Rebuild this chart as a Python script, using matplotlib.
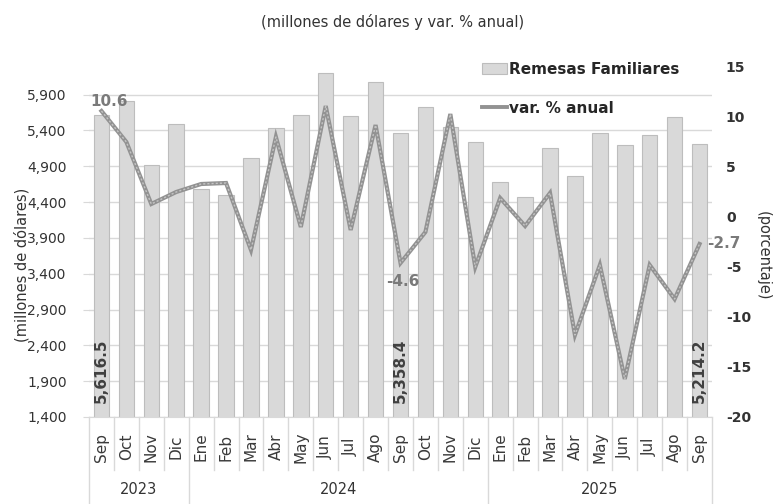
import matplotlib
matplotlib.use("Agg")
import matplotlib.pyplot as plt
import matplotlib.transforms as mtransforms
from matplotlib.patches import Patch
from matplotlib.lines import Line2D

# ---------------- data ----------------
months = ["Sep", "Oct", "Nov", "Dic",
          "Ene", "Feb", "Mar", "Abr", "May", "Jun", "Jul", "Ago", "Sep", "Oct", "Nov", "Dic",
          "Ene", "Feb", "Mar", "Abr", "May", "Jun", "Jul", "Ago", "Sep"]
year_labels = ["2023", "2024", "2025"]
months_per_year = [4, 12, 9]

remesas = [5616.5, 5805, 4916, 5490,
           4581, 4502, 5014, 5428, 5618, 6200, 5596, 6078, 5358.4, 5730, 5440, 5233,
           4675, 4465, 5149, 4758, 5358, 5199, 5335, 5582, 5214.2]
var_anual = [10.6, 7.5, 1.3, 2.5,
             3.3, 3.4, -3.3, 8.0, -1.0, 11.1, -1.3, 9.2, -4.6, -1.5, 10.3, -5.0,
             1.9, -0.9, 2.4, -11.8, -4.8, -16.2, -4.8, -8.2, -2.7]

left_ticks = [1400, 1900, 2400, 2900, 3400, 3900, 4400, 4900, 5400, 5900]
right_ticks = [-20, -15, -10, -5, 0, 5, 10, 15]

bar_label_idx = [0, 12, 24]
line_label_idx = [0, 12, 24]

# ---------------- style ----------------
FONT = "DejaVu Sans"
plt.rcParams["font.family"] = [FONT]
txt_col = "#333333"
bar_col = "#d9d9d9"
bar_edge = "#bdbdbd"
line_col = "#929292"
line_inner = "#c4c4c4"
grid_col = "#d9d9d9"

fig = plt.figure(figsize=(7.78, 5.04), dpi=100)
L, R, B, T = 89 / 778, 712 / 778, 1 - 417 / 504, 1 - 67 / 504
ax = fig.add_axes([L, B, R - L, T - B])
ax2 = ax.twinx()

x = list(range(len(months)))

# bars
ax.bar(x, remesas, width=0.62, color=bar_col, edgecolor=bar_edge, linewidth=0.8, zorder=2)
ax.set_ylim(1400, 6284)
ax.set_xlim(-0.5, len(months) - 0.5)
ax.set_yticks(left_ticks)
ax.set_yticklabels([f"{v:,}" for v in left_ticks], fontsize=10, color=txt_col)
ax.yaxis.grid(True, color=grid_col, linewidth=1)
ax.set_axisbelow(True)
ax.tick_params(axis="y", length=4, direction="out", color=grid_col, pad=12)

for s in ["top", "right", "left"]:
    ax.spines[s].set_visible(False)
ax.spines["bottom"].set_color(grid_col)

# month tick labels
ax.set_xticks(x)
ax.set_xticklabels(months, rotation=90, fontsize=11, color="#3a3a3a", va="center")
ax.tick_params(axis="x", length=0, pad=21.6)

# category separators
trans = mtransforms.blended_transform_factory(ax.transData, ax.transAxes)
ax_h_px = 350.0
month_depth = -53 / ax_h_px
year_depth = -87 / ax_h_px
year_bounds = [0]
for n in months_per_year:
    year_bounds.append(year_bounds[-1] + n)
for i in range(len(months) + 1):
    depth = year_depth if i in year_bounds else month_depth
    ax.plot([i - 0.5, i - 0.5], [0, depth], color=grid_col, lw=1,
            transform=trans, clip_on=False, zorder=1)
for k, lab in enumerate(year_labels):
    cx = (year_bounds[k] + year_bounds[k + 1] - 1) / 2
    ax.text(cx, -73 / ax_h_px, lab, transform=trans, ha="center", va="center",
            fontsize=10.5, color=txt_col)

# bar value labels
for i in bar_label_idx:
    ax.annotate(f"{remesas[i]:,.1f}", (x[i], 1400), xytext=(0, 10), textcoords="offset points",
                rotation=90, ha="center", va="bottom", fontsize=11, fontweight="bold",
                color="#404040", zorder=5)

# line (textured grey look)
ax2.plot(x, var_anual, color=line_col, linewidth=3.0, zorder=4, solid_joinstyle="miter")
ax2.plot(x, var_anual, color=line_inner, linewidth=1.0, zorder=4.5,
         linestyle=(0, (1.5, 1.5)))
ax2.set_ylim(-20, 15)
ax2.set_yticks(right_ticks)
ax2.set_yticklabels([str(v) for v in right_ticks], fontsize=10, color=txt_col, fontweight="bold")
ax2.tick_params(axis="y", length=0, pad=10)
for s in ["top", "right", "left", "bottom"]:
    ax2.spines[s].set_visible(False)

offsets = {0: (8, 10, "center", "center"), 12: (2, -19, "center", "center"), 24: (8, 0, "left", "center")}
for i in line_label_idx:
    dx, dy, ha, va = offsets[i]
    ax2.annotate(f"{var_anual[i]:.1f}", (x[i], var_anual[i]), xytext=(dx, dy),
                 textcoords="offset pixels", ha=ha, va=va, fontsize=11,
                 fontweight="bold", color="#7a7a7a", zorder=6)

# legend
handles = [Patch(facecolor=bar_col, edgecolor=bar_edge, linewidth=0.8),
           Line2D([0], [0], color=line_col, lw=2.8)]
ax2.legend(handles, ["Remesas Familiares", "var. % anual"], loc="upper left",
           bbox_to_anchor=(476 / 778, 1 - 56 / 504), bbox_transform=fig.transFigure,
           frameon=False, prop={"size": 11, "weight": "bold"}, labelcolor="#262626",
           handlelength=1.6, handletextpad=0.15, labelspacing=1.55, borderaxespad=0)

# titles
fig.text(393 / 778, 1 - 22 / 504, "(millones de dólares y var. % anual)", ha="center", va="center",
         fontsize=10.5, color=txt_col)
fig.text(22 / 778, 1 - 265 / 504, "(millones de dólares)", rotation=90, ha="center", va="center",
         fontsize=10.5, color=txt_col)
fig.text(763 / 778, 1 - 256 / 504, "(porcentaje)", rotation=270, ha="center", va="center",
         fontsize=10.5, color=txt_col)

fig.savefig("out.png", dpi=100, facecolor="white")
